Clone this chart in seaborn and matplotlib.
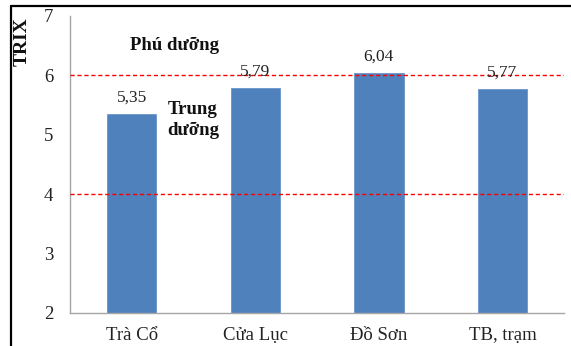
import matplotlib
matplotlib.use("Agg")
import matplotlib.pyplot as plt
from matplotlib.lines import Line2D
import seaborn as sns
import pandas as pd

# TRIX index by station
stations = ["Trà Cổ", "Cửa Lục", "Đồ Sơn", "TB, trạm"]
trix = [5.35, 5.79, 6.04, 5.77]
thresholds = [4, 6]
y_ticks = [2, 3, 4, 5, 6, 7]

sns.set_theme(style="white")
plt.rcParams["font.family"] = ["Liberation Serif", "DejaVu Serif"]

df = pd.DataFrame({"station": stations, "trix": trix})

fig = plt.figure(figsize=(5.71, 3.46), dpi=100)
ax = fig.add_axes([0.1226, 0.0954, 0.8654, 0.8584])

sns.barplot(data=df, x="station", y="trix", color="#4F81BD", width=0.4,
            saturation=1, edgecolor="#6A96CC", linewidth=0.6, ax=ax)

ax.set_ylim(2, 7)
ax.set_yticks(y_ticks)
ax.set_yticklabels([str(t) for t in y_ticks], fontsize=13.5, color="#222222")
ax.tick_params(axis="x", labelsize=13.5, length=0, pad=10, labelcolor="#222222")
ax.tick_params(axis="y", length=0, pad=12)
ax.set_xlabel("")
ax.set_ylabel("")

for s in ["top", "right"]:
    ax.spines[s].set_visible(False)
for s in ["left", "bottom"]:
    ax.spines[s].set_color("#A6A6A6")
    ax.spines[s].set_linewidth(1.0)

for t in thresholds:
    ax.axhline(t, color="#FF0000", linestyle=(0, (3, 2)), linewidth=1.0, zorder=3)

ax.bar_label(ax.containers[0], labels=[f"{v:.2f}".replace(".", ",") for v in trix],
             padding=6, fontsize=12.5, color="#222222")

ax.text(0.342, 6.51, "Phú dưỡng", fontsize=13.5, fontweight="bold",
        ha="center", va="center", color="#111111")
ax.text(0.29, 5.25, "Trung\ndưỡng", fontsize=13.5, fontweight="bold",
        ha="left", va="center", color="#111111", linespacing=1.35)

fig.text(22 / 571, 1 - 42 / 346, "TRIX", rotation=90, fontsize=14,
         fontweight="bold", ha="center", va="center", color="#111111")

# frame lines around the figure (top and left)
fig.add_artist(Line2D([11 / 571, 1], [1 - 6 / 346, 1 - 6 / 346],
                      color="black", linewidth=1.6, transform=fig.transFigure))
fig.add_artist(Line2D([11 / 571, 11 / 571], [0, 1 - 6 / 346],
                      color="black", linewidth=1.6, transform=fig.transFigure))

fig.savefig("out.png", dpi=100)
